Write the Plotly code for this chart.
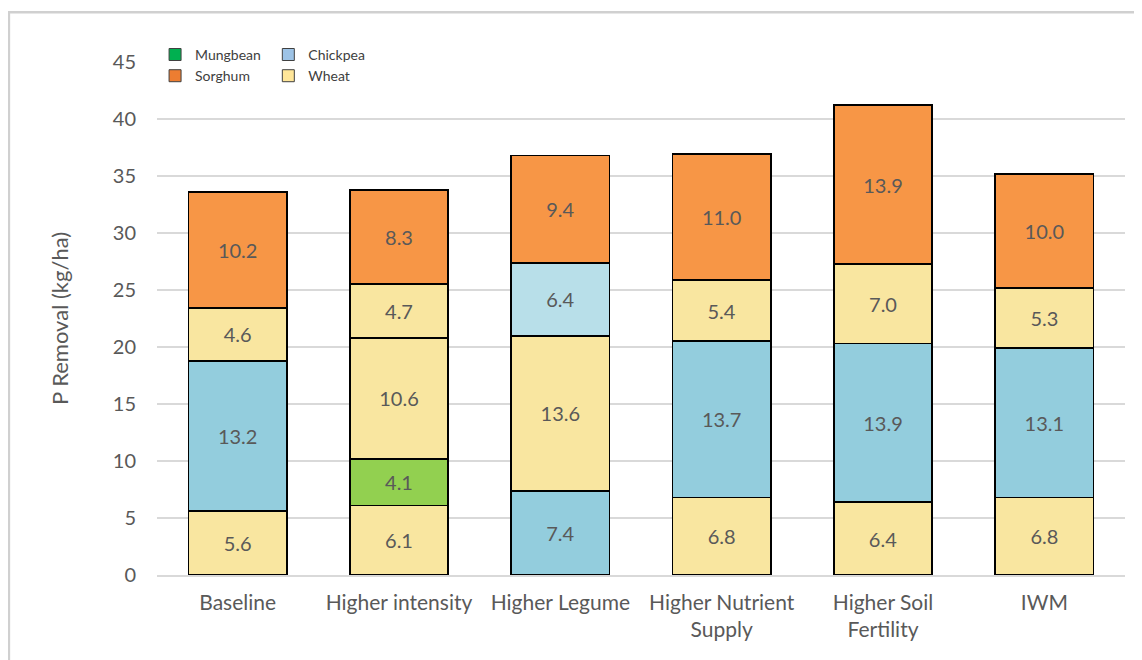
import plotly.graph_objects as go

scenarios = ["Baseline", "Higher intensity", "Higher Legume",
             "Higher Nutrient<br>Supply", "Higher Soil<br>Fertility", "IWM"]

# stacked layers, bottom to top (None = no segment in that bar)
layer1 = [5.6, 6.1, 7.4, 6.8, 6.4, 6.8]
layer1_crop = ["Wheat", "Wheat", "Chickpea", "Wheat", "Wheat", "Wheat"]
layer2 = [13.2, 4.1, 13.6, 13.7, 13.9, 13.1]
layer2_crop = ["Chickpea", "Mungbean", "Wheat", "Chickpea", "Chickpea", "Chickpea"]
layer3 = [4.6, 10.6, 6.4, 5.4, 7.0, 5.3]
layer3_crop = ["Wheat", "Wheat", "Chickpea (light)", "Wheat", "Wheat", "Wheat"]
layer4 = [10.2, 4.7, 9.4, 11.0, 13.9, 10.0]
layer4_crop = ["Sorghum", "Wheat", "Sorghum", "Sorghum", "Sorghum", "Sorghum"]
layer5 = [None, 8.3, None, None, None, None]
layer5_crop = ["Sorghum"] * 6

y_ticks = [0, 5, 10, 15, 20, 25, 30, 35, 40, 45]

BAR_COLORS = {
    "Wheat":            "#F9E6A0",
    "Chickpea":         "#93CDDD",
    "Chickpea (light)": "#B8DFE9",
    "Mungbean":         "#92D050",
    "Sorghum":          "#F79646",
}

LEGEND_COLORS = {
    "Mungbean": "#00B050",
    "Sorghum":  "#ED7D31",
    "Chickpea": "#9DC3E6",
    "Wheat":    "#FFE699",
}

TEXT = "#595959"
GRID = "#D9D9D9"
FONT = "Lato, 'Open Sans', sans-serif"

fig = go.Figure()

layers = [(layer1, layer1_crop), (layer2, layer2_crop), (layer3, layer3_crop),
          (layer4, layer4_crop), (layer5, layer5_crop)]
for vals, crops in layers:
    fig.add_trace(go.Bar(
        x=scenarios,
        y=vals,
        marker=dict(color=[BAR_COLORS[c] for c in crops],
                    line=dict(color="#000000", width=1.8)),
        texttemplate="%{y:.1f}",
        textposition="inside",
        insidetextanchor="middle",
        textangle=0,
        textfont=dict(color=TEXT, size=20, family=FONT),
        showlegend=False,
        hoverinfo="skip",
    ))

# legend-only entries, arranged in two columns
for name, leg in [("Mungbean", "legend"), ("Sorghum", "legend"),
                  ("Chickpea", "legend2"), ("Wheat", "legend2")]:
    fig.add_trace(go.Bar(
        x=[None], y=[None], name=name, legend=leg,
        marker=dict(color=LEGEND_COLORS[name], line=dict(color="#404040", width=1)),
    ))

# page body adds an 8px offset, so margins are shifted accordingly
fig.update_layout(
    barmode="stack",
    bargap=0.39,
    width=1142,
    height=660,
    paper_bgcolor="white",
    plot_bgcolor="white",
    font=dict(family=FONT, color=TEXT),
    margin=dict(l=149, r=25, t=54, b=93),
    xaxis=dict(
        showgrid=False,
        showline=True, linecolor=GRID, linewidth=1.5,
        ticks="",
        ticklabelstandoff=8,
        tickfont=dict(size=21, color=TEXT),
    ),
    yaxis=dict(
        range=[0, 45],
        tickvals=y_ticks,
        showgrid=True, gridcolor=GRID, gridwidth=1.5,
        zeroline=False,
        ticks="",
        ticklabelstandoff=20,
        tickfont=dict(size=20, color=TEXT),
        title=dict(text="P Removal (kg/ha)", font=dict(size=22, color=TEXT), standoff=38),
    ),
    legend=dict(x=-0.002, y=1.045, xanchor="left", yanchor="top", traceorder="normal",
                bgcolor="rgba(0,0,0,0)", font=dict(size=14, color="#404040"),
                tracegroupgap=0, itemwidth=30),
    legend2=dict(x=0.115, y=1.045, xanchor="left", yanchor="top", traceorder="normal",
                 bgcolor="rgba(0,0,0,0)", font=dict(size=14, color="#404040"),
                 tracegroupgap=0, itemwidth=30),
    shapes=[
        # white patch behind the legend hiding the top gridline
        dict(type="rect", xref="paper", yref="paper", x0=-0.008, x1=0.25,
             y0=0.935, y1=1.06, fillcolor="white", line=dict(width=0), layer="above"),
        # outer frame (top and left edges)
        dict(type="path", xref="paper", yref="paper",
             path="M -0.153,-0.2 L -0.153,1.097 L 1.05,1.097",
             line=dict(color="#D0D0D0", width=2.5)),
    ],
)

fig.write_html("out.html")
